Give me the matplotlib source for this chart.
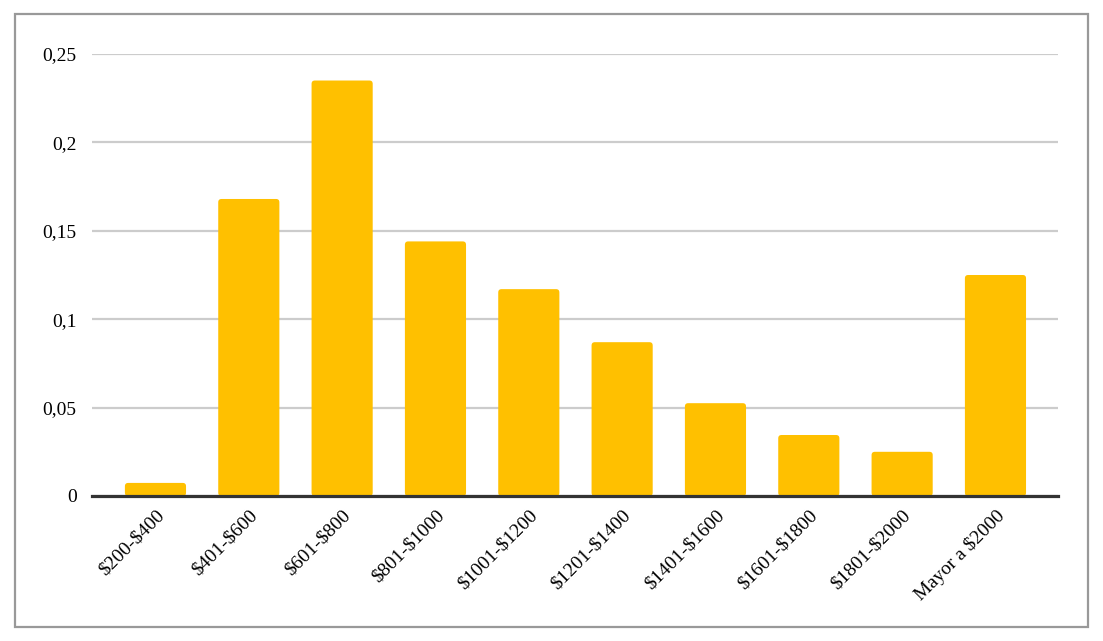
import matplotlib
matplotlib.use("Agg")
import matplotlib.pyplot as plt
from matplotlib.patches import Rectangle, FancyBboxPatch

categories = ["$200-$400", "$401-$600", "$601-$800", "$801-$1000", "$1001-$1200",
              "$1201-$1400", "$1401-$1600", "$1601-$1800", "$1801-$2000", "Mayor a $2000"]
values = [0.0074, 0.168, 0.235, 0.144, 0.117, 0.087, 0.0525, 0.0345, 0.025, 0.125]
yticks = [0, 0.05, 0.1, 0.15, 0.2, 0.25]
ytick_labels = ["0", "0,05", "0,1", "0,15", "0,2", "0,25"]

plt.rcParams['font.family'] = ['Liberation Serif', 'DejaVu Serif']
plt.rcParams['text.parse_math'] = False

fig = plt.figure(figsize=(11.03, 6.41), dpi=100)
ax = fig.add_axes([92/1103, 1-496/641, (1058-92)/1103, (496-54)/641])

x = list(range(len(categories)))
bars = ax.bar(x, values, width=0.655, color="#FFC000", zorder=3)

ax.set_xlim(-0.68, 9.67)
ax.set_ylim(0, 0.25)

# rounded top corners
for b in bars:
    bx, by = b.get_x(), b.get_y()
    w, h = b.get_width(), b.get_height()
    b.set_visible(False)
    p = FancyBboxPatch((bx, by), w, h, boxstyle="round,pad=0,rounding_size=0.035",
                       mutation_aspect=0.053, facecolor="#FFC000", edgecolor="none",
                       zorder=3)
    ax.add_patch(p)

ax.set_yticks(yticks)
ax.set_yticklabels(ytick_labels, fontsize=14)
ax.set_xticks(x)
ax.set_xticklabels(categories, rotation=45, ha="right", va="top",
                   rotation_mode="anchor", fontsize=14)
ax.tick_params(axis="both", length=0)
ax.tick_params(axis="y", pad=11)
ax.tick_params(axis="x", pad=8)

ax.grid(axis="y", color="#cccccc", linewidth=1.6, zorder=0)
ax.set_axisbelow(True)
for s in ["top", "right", "left"]:
    ax.spines[s].set_visible(False)
ax.spines["bottom"].set_color("#333333")
ax.spines["bottom"].set_linewidth(2.3)
ax.spines["bottom"].set_zorder(4)

frame = Rectangle((15/1103, 1-627/641), (1088-15)/1103, (627-14)/641,
                  transform=fig.transFigure, fill=False, edgecolor="#999999",
                  linewidth=1.6)
fig.add_artist(frame)

fig.savefig("out.png", dpi=100)
